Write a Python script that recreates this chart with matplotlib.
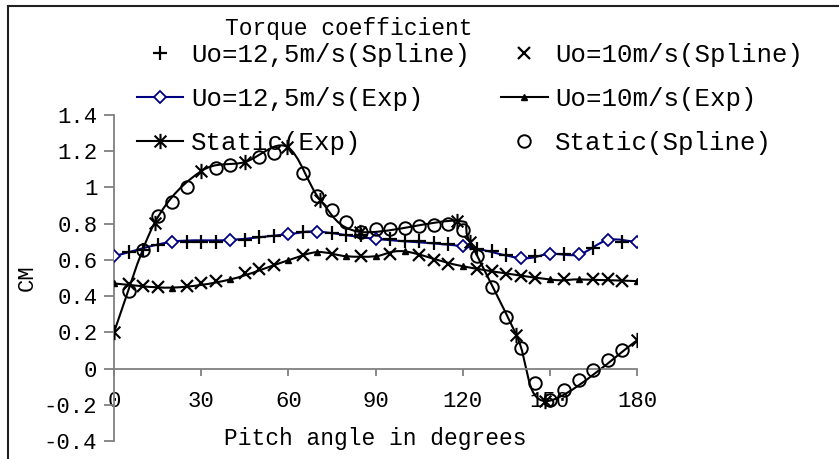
import numpy as np
import matplotlib
matplotlib.use("Agg")
import matplotlib.pyplot as plt
from matplotlib.path import Path
from matplotlib.patches import PathPatch, Rectangle
from matplotlib.lines import Line2D
from matplotlib.ticker import FuncFormatter

# Uo = 12,5 m/s
exp12_deg = [0, 20, 40, 60, 70, 90, 120, 140, 150, 160, 170, 180]
exp12_cm = [0.62, 0.70, 0.71, 0.742, 0.756, 0.716, 0.675, 0.61, 0.634, 0.63, 0.71, 0.698]
spl12_deg = [5, 10, 15, 25, 30, 35, 45, 50, 55, 65, 75, 80, 85, 95, 100, 105,
             110, 115, 125, 130, 135, 145, 155, 165, 175]
spl12_cm = [0.643, 0.655, 0.68, 0.698, 0.70, 0.70, 0.71, 0.725, 0.73, 0.753, 0.747,
            0.738, 0.735, 0.716, 0.707, 0.704, 0.693, 0.689, 0.66, 0.649, 0.629,
            0.622, 0.634, 0.665, 0.70]

# Uo = 10 m/s
exp10_deg = [0, 20, 40, 60, 70, 80, 90, 100, 120, 150, 160, 180]
exp10_cm = [0.47, 0.447, 0.492, 0.598, 0.643, 0.62, 0.62, 0.647, 0.565, 0.492, 0.492, 0.483]
spl10_deg = [5, 10, 15, 25, 30, 35, 45, 50, 55, 65, 75, 85, 95, 105, 110, 115,
             125, 130, 135, 140, 145, 155, 165, 170, 175]
spl10_cm = [0.465, 0.458, 0.448, 0.455, 0.47, 0.483, 0.529, 0.548, 0.57, 0.629,
            0.63, 0.62, 0.634, 0.625, 0.60, 0.58, 0.552, 0.537, 0.521, 0.51,
            0.501, 0.494, 0.494, 0.497, 0.483]

# Static
st_exp_deg = [0, 14, 30, 45, 59.5, 71, 84.5, 118, 122.5, 138.5, 148.5, 180]
st_exp_cm = [0.2, 0.805, 1.09, 1.14, 1.225, 0.93, 0.755, 0.816, 0.70, 0.185, -0.18, 0.155]
st_spl_deg = [5, 10, 15, 20, 25, 35, 40, 50, 55, 65, 70, 75, 80, 85, 90, 95, 100,
              105, 110, 115, 120, 125, 130, 135, 140, 145, 150, 155, 160, 165, 170, 175]
st_spl_cm = [0.43, 0.655, 0.84, 0.92, 1.004, 1.11, 1.126, 1.168, 1.19, 1.08, 0.953,
             0.876, 0.81, 0.756, 0.77, 0.77, 0.778, 0.785, 0.79, 0.80, 0.765, 0.62,
             0.448, 0.284, 0.111, -0.077, -0.173, -0.119, -0.064, -0.009, 0.045, 0.10]

FONT = "Liberation Mono"
GRAY = "#808080"
NAVY = "#000080"

# asterisk marker like the spreadsheet one: x plus a vertical bar
star = Path([(-1, -1), (1, 1), (-1, 1), (1, -1), (0, -1.3), (0, 1.3)],
            [Path.MOVETO, Path.LINETO, Path.MOVETO, Path.LINETO, Path.MOVETO, Path.LINETO])


def smooth(x, y):
    # smoothed line through the points (bezier, like a spreadsheet "smoothed line")
    p = np.column_stack([x, y]).astype(float)
    q = np.vstack([p[0], p, p[-1]])
    verts = [p[0]]
    codes = [Path.MOVETO]
    for i in range(len(p) - 1):
        c1 = q[i + 1] + (q[i + 2] - q[i]) / 6.0
        c2 = q[i + 2] - (q[i + 3] - q[i + 1]) / 6.0
        verts += [c1, c2, q[i + 2]]
        codes += [Path.CURVE4] * 3
    return Path(verts, codes)


fig = plt.figure(figsize=(8.39, 4.59), dpi=100)
ax = fig.add_axes([114 / 839, 1 - 441 / 459, 523 / 839, 326 / 459])

ax.add_patch(PathPatch(smooth(exp12_deg, exp12_cm), fill=False, ec=NAVY, lw=1.5, zorder=2))
ax.add_patch(PathPatch(smooth(exp10_deg, exp10_cm), fill=False, ec="black", lw=1.5, zorder=2))
ax.add_patch(PathPatch(smooth(st_exp_deg, st_exp_cm), fill=False, ec="black", lw=1.5, zorder=2))

ax.plot(spl12_deg, spl12_cm, ls="none", marker="+", ms=10, mew=1.6, color="black", zorder=3)
ax.plot(spl10_deg, spl10_cm, ls="none", marker="x", ms=8, mew=1.6, color="black", zorder=3)
ax.plot(exp12_deg, exp12_cm, ls="none", marker="D", ms=6, mew=1.3, mfc="white", mec=NAVY, zorder=4)
ax.plot(exp10_deg, exp10_cm, ls="none", marker="^", ms=4, color="black", zorder=4)
ax.plot(st_exp_deg, st_exp_cm, ls="none", marker=star, ms=11, mew=1.5, color="black", zorder=4)
ax.plot(st_spl_deg, st_spl_cm, ls="none", marker="o", ms=9, mew=1.4, mfc="none", mec="black", zorder=4)

ax.set_xlim(0, 180)
ax.set_ylim(-0.4, 1.4)
ax.set_xticks(range(0, 181, 30))
ax.set_yticks(np.round(np.arange(-0.4, 1.41, 0.2), 1))
ax.yaxis.set_major_formatter(FuncFormatter(lambda v, p: ("%g" % round(v, 1)).replace("\u2212", "-")))

for s in ["top", "right"]:
    ax.spines[s].set_visible(False)
ax.spines["bottom"].set_position(("data", 0))
for s in ["left", "bottom"]:
    ax.spines[s].set_color(GRAY)
    ax.spines[s].set_linewidth(1.3)
ax.tick_params(axis="y", direction="out", length=7, width=1.3, color=GRAY, pad=5,
               labelsize=16, labelfontfamily=FONT)
ax.tick_params(axis="x", direction="out", length=5, width=1.3, color=GRAY, pad=11,
               labelsize=16, labelfontfamily=FONT)

ax.set_ylabel("CM", fontsize=16, family=FONT)
ax.yaxis.set_label_coords(-(114 - 27) / 523, 0.5)
ax.yaxis.label.set_va("center")
ax.set_xlabel("Pitch angle in degrees", fontsize=16.5, family=FONT)
ax.xaxis.set_label_coords(0.5, 3 / 326)
ax.xaxis.label.set_va("center")

fig.text(349 / 839, 1 - 28 / 459, "Torque coefficient", ha="center", va="center",
         fontsize=16.5, family=FONT)

handles = [
    Line2D([], [], ls="none", marker="+", ms=10, mew=1.6, color="black"),
    Line2D([], [], color=NAVY, lw=1.5, marker="D", ms=6, mew=1.3, mfc="white", mec=NAVY),
    Line2D([], [], color="black", lw=1.5, marker=star, ms=11, mew=1.5),
    Line2D([], [], ls="none", marker="x", ms=8, mew=1.6, color="black"),
    Line2D([], [], color="black", lw=1.5, marker="^", ms=4),
    Line2D([], [], ls="none", marker="o", ms=9, mew=1.4, mfc="none", mec="black"),
]
labels = ["Uo=12,5m/s(Spline)", "Uo=12,5m/s(Exp)", "Static(Exp)",
          "Uo=10m/s(Spline)", "Uo=10m/s(Exp)", "Static(Spline)"]
fig.legend(handles, labels, ncol=2, loc="upper left",
           bbox_to_anchor=(137 / 839, 1 - 43 / 459), frameon=False,
           prop={"family": FONT, "size": 18.5}, handlelength=1.8, handletextpad=0.3,
           columnspacing=1.22, labelspacing=0.78, borderpad=0, borderaxespad=0)

fig.add_artist(Rectangle((8 / 839, -0.1), 1.2, 1.1 - 6.5 / 459, transform=fig.transFigure,
                         fill=False, ec="#202020", lw=1.5))

fig.savefig("out.png", dpi=100)
